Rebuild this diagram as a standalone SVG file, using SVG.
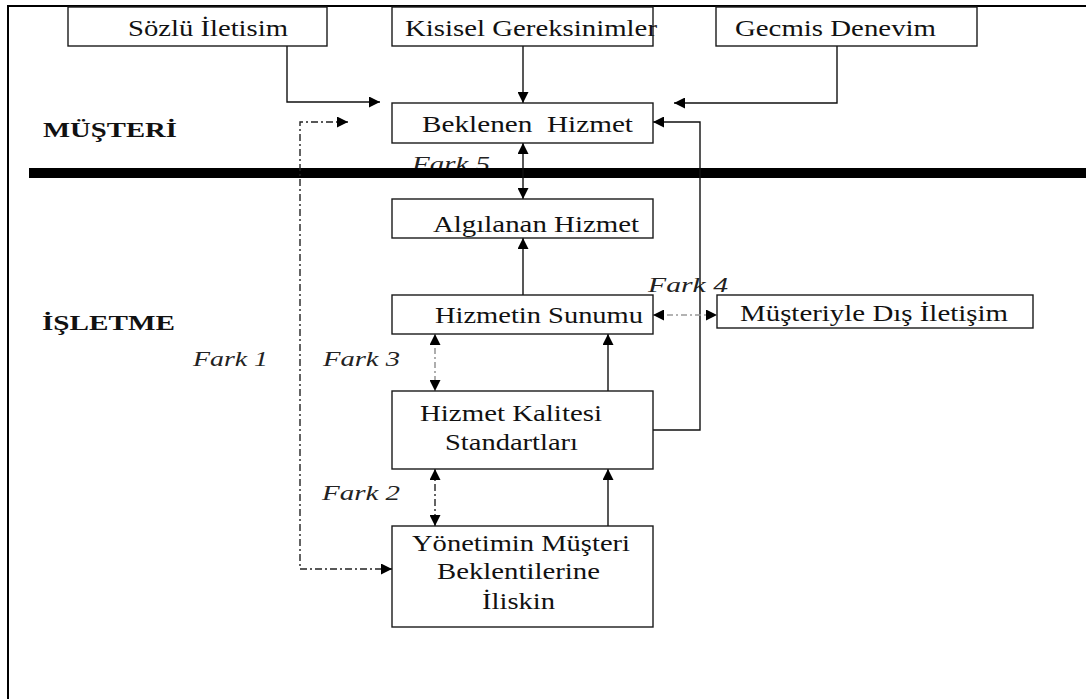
<svg xmlns="http://www.w3.org/2000/svg" width="1086" height="699" viewBox="0 0 1086 699">
  <style>
    .box { fill: #ffffff; stroke: #1a1a1a; stroke-width: 1.4; }
    .lbl { font-family: "Liberation Serif", "Times New Roman", serif; font-size: 23px; fill: #111; }
    .zone { font-family: "Liberation Serif", "Times New Roman", serif; font-size: 22px; font-weight: bold; fill: #111; }
    .gap { font-family: "Liberation Serif", "Times New Roman", serif; font-size: 21px; font-style: italic; fill: #222; }
    .solid { fill: none; stroke: #111; stroke-width: 1.4; }
    .dashdot { fill: none; stroke: #222; stroke-width: 1.4; stroke-dasharray: 7 3 2 3; }
    .dashgray { fill: none; stroke: #9a9a9a; stroke-width: 1.6; stroke-dasharray: 6 3 2 3; }
  </style>
  <defs>
    <marker id="arrow" viewBox="0 0 12 12" refX="12" refY="6" markerWidth="11" markerHeight="11" markerUnits="userSpaceOnUse" orient="auto-start-reverse">
      <path d="M0,0 L12,6 L0,12 Z" fill="#000"/>
    </marker>
  </defs>

  <!-- outer frame (top and left rules) -->
  <path d="M8,699 V6 H1086" fill="none" stroke="#000" stroke-width="2"/>

  <!-- zone labels -->
  <text class="zone" x="43" y="137" textLength="134" lengthAdjust="spacingAndGlyphs">MÜŞTERİ</text>
  <text class="zone" x="42" y="330" textLength="133" lengthAdjust="spacingAndGlyphs">İŞLETME</text>

  <!-- gap labels -->
  <text class="gap" x="412" y="171" textLength="78" lengthAdjust="spacingAndGlyphs">Fark 5</text>
  <text class="gap" x="648" y="292" textLength="80" lengthAdjust="spacingAndGlyphs">Fark 4</text>
  <text class="gap" x="193" y="366" textLength="75" lengthAdjust="spacingAndGlyphs">Fark 1</text>
  <text class="gap" x="323" y="366" textLength="77" lengthAdjust="spacingAndGlyphs">Fark 3</text>
  <text class="gap" x="322" y="500" textLength="78" lengthAdjust="spacingAndGlyphs">Fark 2</text>

  <!-- customer / company divider -->
  <rect x="29" y="168" width="1057" height="10" fill="#000"/>

  <g id="connectors">
    <!-- inputs to expected service -->
    <path class="solid" d="M287,46 V102 H380" marker-end="url(#arrow)"/>
    <path class="solid" d="M523,46 V103" marker-end="url(#arrow)"/>
    <path class="solid" d="M837,46 V103 H674" marker-end="url(#arrow)"/>
    <!-- Fark 5 -->
    <path class="solid" d="M523,143 V199" marker-start="url(#arrow)" marker-end="url(#arrow)"/>
    <!-- delivery to perceived service -->
    <path class="solid" d="M523,295 V238" marker-end="url(#arrow)"/>
    <!-- standards to delivery -->
    <path class="solid" d="M608,391 V334" marker-end="url(#arrow)"/>
    <!-- management perception to standards -->
    <path class="solid" d="M608,526 V469" marker-end="url(#arrow)"/>
    <!-- standards feedback to expected service -->
    <path class="solid" d="M653,430 H700 V122 H653" marker-end="url(#arrow)"/>
    <!-- Fark 1 -->
    <path class="dashdot" d="M348,122 H300 V569 H392" marker-start="url(#arrow)" marker-end="url(#arrow)"/>
    <!-- Fark 3 -->
    <path class="dashgray" d="M435,334 V391" marker-start="url(#arrow)" marker-end="url(#arrow)"/>
    <!-- Fark 2 -->
    <path class="dashdot" d="M435,469 V526" marker-start="url(#arrow)" marker-end="url(#arrow)"/>
    <!-- Fark 4 -->
    <path class="dashgray" d="M653,315 H717" marker-start="url(#arrow)" marker-end="url(#arrow)"/>
  </g>

  <g id="sozlu-iletisim">
    <rect class="box" x="68" y="7" width="259" height="39"/>
    <text class="lbl" x="128" y="36" textLength="160" lengthAdjust="spacingAndGlyphs">Sözlü İletisim</text>
  </g>
  <g id="kisisel-gereksinimler">
    <rect class="box" x="392" y="7" width="261" height="39"/>
    <text class="lbl" x="405" y="36" textLength="252" lengthAdjust="spacingAndGlyphs">Kisisel Gereksinimler</text>
  </g>
  <g id="gecmis-denevim">
    <rect class="box" x="716" y="7" width="261" height="39"/>
    <text class="lbl" x="735" y="36" textLength="201" lengthAdjust="spacingAndGlyphs">Gecmis Denevim</text>
  </g>
  <g id="beklenen-hizmet">
    <rect class="box" x="392" y="103" width="261" height="40"/>
    <text class="lbl" x="422" y="132" textLength="211" lengthAdjust="spacingAndGlyphs" xml:space="preserve">Beklenen  Hizmet</text>
  </g>
  <g id="algilanan-hizmet">
    <rect class="box" x="392" y="199" width="261" height="39"/>
    <text class="lbl" x="433" y="232" textLength="206" lengthAdjust="spacingAndGlyphs">Algılanan Hizmet</text>
  </g>
  <g id="hizmetin-sunumu">
    <rect class="box" x="392" y="295" width="261" height="39"/>
    <text class="lbl" x="435" y="323" textLength="208" lengthAdjust="spacingAndGlyphs">Hizmetin Sunumu</text>
  </g>
  <g id="musteriyle-dis-iletisim">
    <rect class="box" x="717" y="295" width="316" height="33"/>
    <text class="lbl" x="740" y="321" textLength="268" lengthAdjust="spacingAndGlyphs">Müşteriyle Dış İletişim</text>
  </g>
  <g id="hizmet-kalitesi-standartlari">
    <rect class="box" x="392" y="391" width="261" height="78"/>
    <text class="lbl" x="420" y="421" textLength="182" lengthAdjust="spacingAndGlyphs">Hizmet Kalitesi</text>
    <text class="lbl" x="445" y="450" textLength="133" lengthAdjust="spacingAndGlyphs">Standartları</text>
  </g>
  <g id="yonetim-algisi">
    <rect class="box" x="392" y="526" width="261" height="101"/>
    <text class="lbl" x="412" y="551" textLength="218" lengthAdjust="spacingAndGlyphs">Yönetimin Müşteri</text>
    <text class="lbl" x="437" y="579" textLength="163" lengthAdjust="spacingAndGlyphs">Beklentilerine</text>
    <text class="lbl" x="482" y="609" textLength="73" lengthAdjust="spacingAndGlyphs">İliskin</text>
  </g>
</svg>
